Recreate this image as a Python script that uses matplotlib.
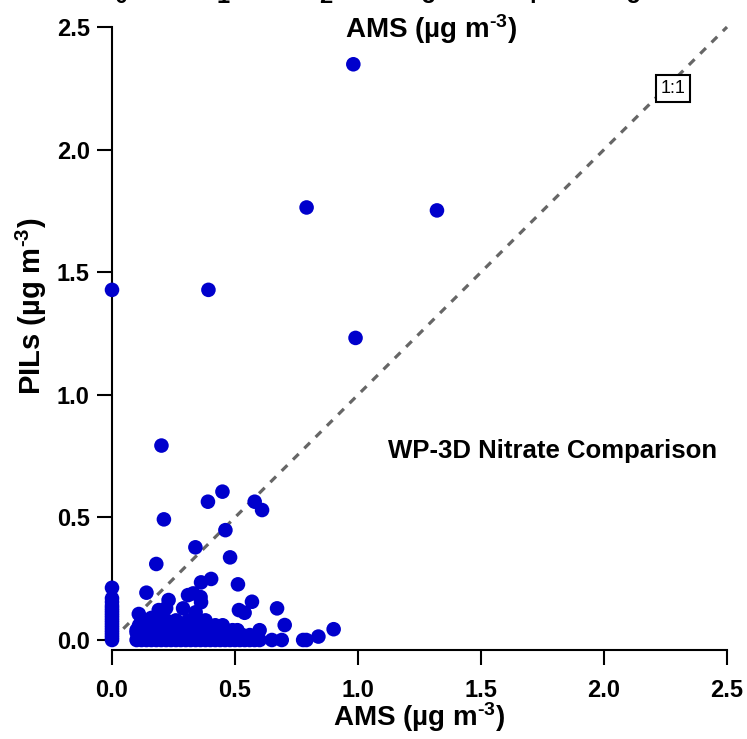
import matplotlib
matplotlib.use("Agg")
import matplotlib.pyplot as plt

plt.rcParams["font.family"] = ["Liberation Sans", "DejaVu Sans"]
plt.rcParams["font.weight"] = "bold"
plt.rcParams["mathtext.fontset"] = "custom"
plt.rcParams["mathtext.rm"] = "Liberation Sans:bold"
plt.rcParams["mathtext.it"] = "Liberation Sans:bold"
plt.rcParams["mathtext.bf"] = "Liberation Sans:bold"

# --- data (AMS vs PILs nitrate, ug m-3) ---
# AMS = 0 column
ams_zero = [0.0] * 19
pils_zero = [0.0, 0.01, 0.02, 0.03, 0.04, 0.05, 0.06, 0.07, 0.08, 0.09,
             0.10, 0.11, 0.12, 0.13, 0.14, 0.155, 0.17, 0.213, 1.428]

# dense low cluster
ams_cluster = [0.10, 0.12, 0.14, 0.16, 0.18, 0.20, 0.22, 0.24, 0.26, 0.28,
               0.30, 0.32, 0.34, 0.36, 0.38, 0.40, 0.42, 0.44, 0.46, 0.48,
               0.50, 0.52, 0.54, 0.56, 0.58, 0.60,
               0.11, 0.13, 0.15, 0.17, 0.19, 0.21, 0.23, 0.25, 0.27, 0.29,
               0.31, 0.33, 0.35, 0.37, 0.39, 0.41, 0.43, 0.45, 0.47, 0.49,
               0.51, 0.53, 0.55, 0.57,
               0.11, 0.14, 0.17, 0.20, 0.23, 0.26, 0.29, 0.32, 0.35, 0.38,
               0.41, 0.44, 0.47, 0.50, 0.53, 0.56,
               0.10, 0.125, 0.15, 0.175, 0.20, 0.225, 0.25, 0.275, 0.30, 0.325,
               0.35, 0.375, 0.40, 0.425, 0.45, 0.475, 0.50,
               0.10, 0.13, 0.16, 0.19, 0.22, 0.25, 0.28, 0.31, 0.34, 0.37,
               0.40, 0.43, 0.46, 0.49, 0.51, 0.60,
               0.12, 0.15, 0.18, 0.21, 0.24, 0.27, 0.30, 0.33, 0.36, 0.39,
               0.42, 0.45,
               0.11, 0.15, 0.18, 0.21, 0.24, 0.27, 0.30, 0.33, 0.36, 0.39,
               0.42, 0.45,
               0.12, 0.17, 0.22, 0.26, 0.31, 0.35, 0.38]
pils_cluster = ([0.0] * 26 + [0.01] * 24 + [0.02] * 16 + [0.03] * 17
                + [0.04] * 16 + [0.05] * 12 + [0.06] * 12 + [0.08] * 7)

# scattered points above the cluster and outliers
ams_other = [0.65, 0.69, 0.777, 0.79, 0.839, 0.901, 0.702, 0.671, 0.516, 0.539,
             0.569, 0.512, 0.109, 0.16, 0.19, 0.20, 0.22, 0.23, 0.14, 0.289,
             0.309, 0.33, 0.34, 0.362, 0.36, 0.362, 0.403, 0.18, 0.339, 0.48,
             0.461, 0.211, 0.61, 0.58, 0.39, 0.449, 0.201, 0.99, 0.392, 0.791,
             1.321, 0.981]
pils_other = [0.0, 0.0, 0.0, 0.0, 0.014, 0.044, 0.061, 0.129, 0.122, 0.111,
              0.156, 0.227, 0.106, 0.09, 0.122, 0.10, 0.13, 0.163, 0.193, 0.129,
              0.183, 0.19, 0.113, 0.154, 0.175, 0.235, 0.249, 0.31, 0.378, 0.337,
              0.448, 0.492, 0.53, 0.564, 0.564, 0.605, 0.793, 1.232, 1.428, 1.764,
              1.752, 2.348]

ams = ams_zero + ams_cluster + ams_other
pils = pils_zero + pils_cluster + pils_other

one_to_one = [0.0, 2.5]
x_ticks = [0.0, 0.5, 1.0, 1.5, 2.0, 2.5]
top_ticks = [0, 1, 2, 3, 4, 5]

unit = r"(µg m$^{\text{-3}}$)"

fig = plt.figure(figsize=(7.47, 7.39), dpi=100)
ax = fig.add_axes([112 / 747, 1 - 640 / 739, 615 / 747, 613 / 739])

ax.plot(one_to_one, one_to_one, color="#666666", lw=2.3,
        linestyle=(0, (2.5, 2.5)), zorder=2, clip_on=False)
ax.scatter(ams, pils, s=110, color="#0000CC", edgecolors="none",
           zorder=3, clip_on=False)

ax.set_xlim(0, 2.5)
ax.set_ylim(0, 2.5)
ax.set_xticks(x_ticks)
ax.set_yticks(x_ticks)
ax.set_xticklabels([f"{v:.1f}" for v in x_ticks])
ax.set_yticklabels([f"{v:.1f}" for v in x_ticks])

for side in ("top", "right"):
    ax.spines[side].set_visible(False)
for side in ("left", "bottom"):
    ax.spines[side].set_linewidth(1.5)
ax.spines["bottom"].set_position(("outward", 7))
ax.tick_params(axis="both", direction="out", length=11, width=1.5,
               labelsize=17)
ax.tick_params(axis="x", pad=10)
ax.tick_params(axis="y", pad=5)

ax.set_xlabel("AMS " + unit, fontsize=20, fontweight="bold")
ax.xaxis.set_label_coords(0.5, -0.098)
ax.set_ylabel("PILs " + unit, fontsize=21, fontweight="bold")
ax.yaxis.set_label_coords(-0.103, 0.545)

ax.text(2.28, 2.25, "1:1", fontsize=13, fontweight="normal",
        ha="center", va="center",
        bbox=dict(facecolor="white", edgecolor="black", lw=1.5, pad=3.5))
ax.text(1.12, 0.77, "WP-3D Nitrate Comparison", fontsize=18.5,
        fontweight="bold", ha="left", va="center")

# partially cut axis of the panel above
ax2 = ax.twiny()
ax2.set_xlim(-0.088, 5.918)
ax2.set_xticks(top_ticks)
ax2.set_xticklabels([str(t) for t in top_ticks])
ax2.tick_params(axis="x", length=0, pad=14, labelsize=17)
for side in ax2.spines:
    ax2.spines[side].set_visible(False)
ax2.set_xlabel("AMS " + unit, fontsize=20, fontweight="bold")
ax2.xaxis.set_label_coords(0.519, 0.982)

fig.savefig("out.png", dpi=100)
